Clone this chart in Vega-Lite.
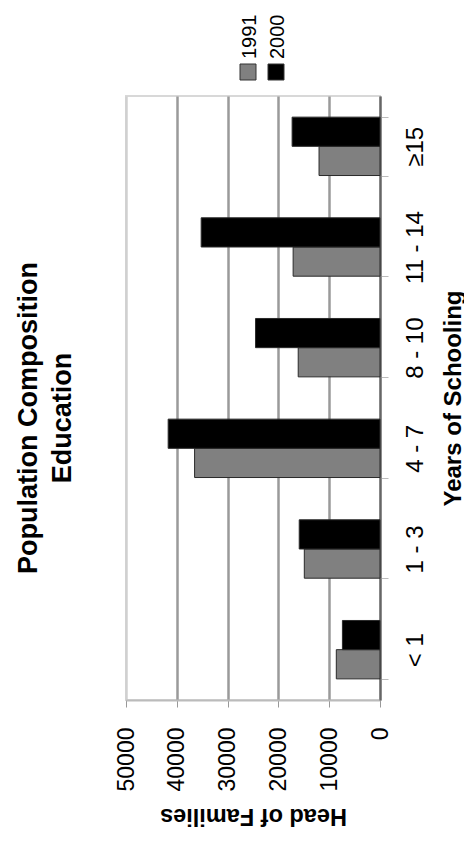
{
  "$schema": "https://vega.github.io/schema/vega-lite/v6.json",
  "width": 254,
  "height": 604,
  "autosize": {"type": "none"},
  "padding": {"left": 126, "top": 96, "right": 84, "bottom": 141},
  "background": "white",
  "title": {
    "text": ["Population Composition", "Education"],
    "orient": "left",
    "anchor": "middle",
    "font": "Liberation Sans",
    "fontSize": 27,
    "fontWeight": "bold",
    "color": "#000000",
    "lineHeight": 34,
    "offset": 38,
    "dx": -20
  },
  "data": {
    "values": [
      {"schooling": "< 1", "year": "1991", "families": 8600},
      {"schooling": "< 1", "year": "2000", "families": 7400},
      {"schooling": "1 - 3", "year": "1991", "families": 14900},
      {"schooling": "1 - 3", "year": "2000", "families": 15900},
      {"schooling": "4 - 7", "year": "1991", "families": 36500},
      {"schooling": "4 - 7", "year": "2000", "families": 41700},
      {"schooling": "8 - 10", "year": "1991", "families": 16100},
      {"schooling": "8 - 10", "year": "2000", "families": 24500},
      {"schooling": "11 - 14", "year": "1991", "families": 17100},
      {"schooling": "11 - 14", "year": "2000", "families": 35200},
      {"schooling": "≥15", "year": "1991", "families": 12000},
      {"schooling": "≥15", "year": "2000", "families": 17300}
    ]
  },
  "mark": {"type": "bar", "stroke": "#2a2a2a", "strokeWidth": 1},
  "encoding": {
    "y": {
      "field": "schooling",
      "type": "nominal",
      "sort": ["≥15", "11 - 14", "8 - 10", "4 - 7", "1 - 3", "< 1"],
      "scale": {"paddingInner": 0.42, "paddingOuter": 0.21},
      "axis": {
        "orient": "right",
        "title": "Years of Schooling",
        "titleAngle": -90,
        "titleAlign": "center",
        "titleBaseline": "top",
        "titleFontSize": 24,
        "titleFontWeight": "bold",
        "titleColor": "#000000",
        "titlePadding": 14,
        "labelAngle": -90,
        "labelAlign": "center",
        "labelBaseline": "top",
        "labelFontSize": 24,
        "labelColor": "#000000",
        "labelPadding": 15,
        "tickBand": "extent",
        "tickSize": 8,
        "tickColor": "#bbbbbb",
        "domainColor": "#666666",
        "domainWidth": 2,
        "grid": false
      }
    },
    "yOffset": {"field": "year", "type": "nominal", "sort": ["2000", "1991"]},
    "x": {
      "field": "families",
      "type": "quantitative",
      "scale": {"domain": [0, 50000], "reverse": true},
      "axis": {
        "orient": "bottom",
        "values": [0, 10000, 20000, 30000, 40000, 50000],
        "format": "d",
        "title": "Head of Families",
        "titleAngle": 180,
        "titleBaseline": "alphabetic",
        "titleFontSize": 23.5,
        "titleFontWeight": "bold",
        "titleColor": "#000000",
        "titlePadding": 18,
        "labelAngle": -90,
        "labelAlign": "right",
        "labelBaseline": "middle",
        "labelFontSize": 23,
        "labelColor": "#000000",
        "labelPadding": 20,
        "tickSize": 7,
        "tickColor": "#999999",
        "domainColor": "#bbbbbb",
        "domainWidth": 2,
        "grid": true,
        "gridColor": {"condition": {"test": "datum.value === 50000", "value": "#d0d0d0"}, "value": "#9a9a9a"},
        "gridWidth": 2.5
      }
    },
    "color": {
      "field": "year",
      "type": "nominal",
      "scale": {"domain": ["1991", "2000"], "range": ["#808080", "#000000"]},
      "legend": {
        "orient": "none",
        "legendX": 112,
        "legendY": -34,
        "direction": "horizontal",
        "title": null,
        "symbolType": "square",
        "symbolSize": 256,
        "symbolStrokeColor": "#333333",
        "symbolStrokeWidth": 1,
        "labelFontSize": 20,
        "labelColor": "#000000",
        "labelOffset": -8,
        "columnPadding": 5,
        "encode": {
          "labels": {
            "update": {
              "angle": {"value": -90},
              "align": {"value": "left"},
              "baseline": {"value": "middle"},
              "dx": {"value": 13}
            }
          }
        }
      }
    }
  },
  "config": {
    "font": "Liberation Sans",
    "view": {"stroke": "#d8d8d8", "strokeWidth": 2}
  }
}
